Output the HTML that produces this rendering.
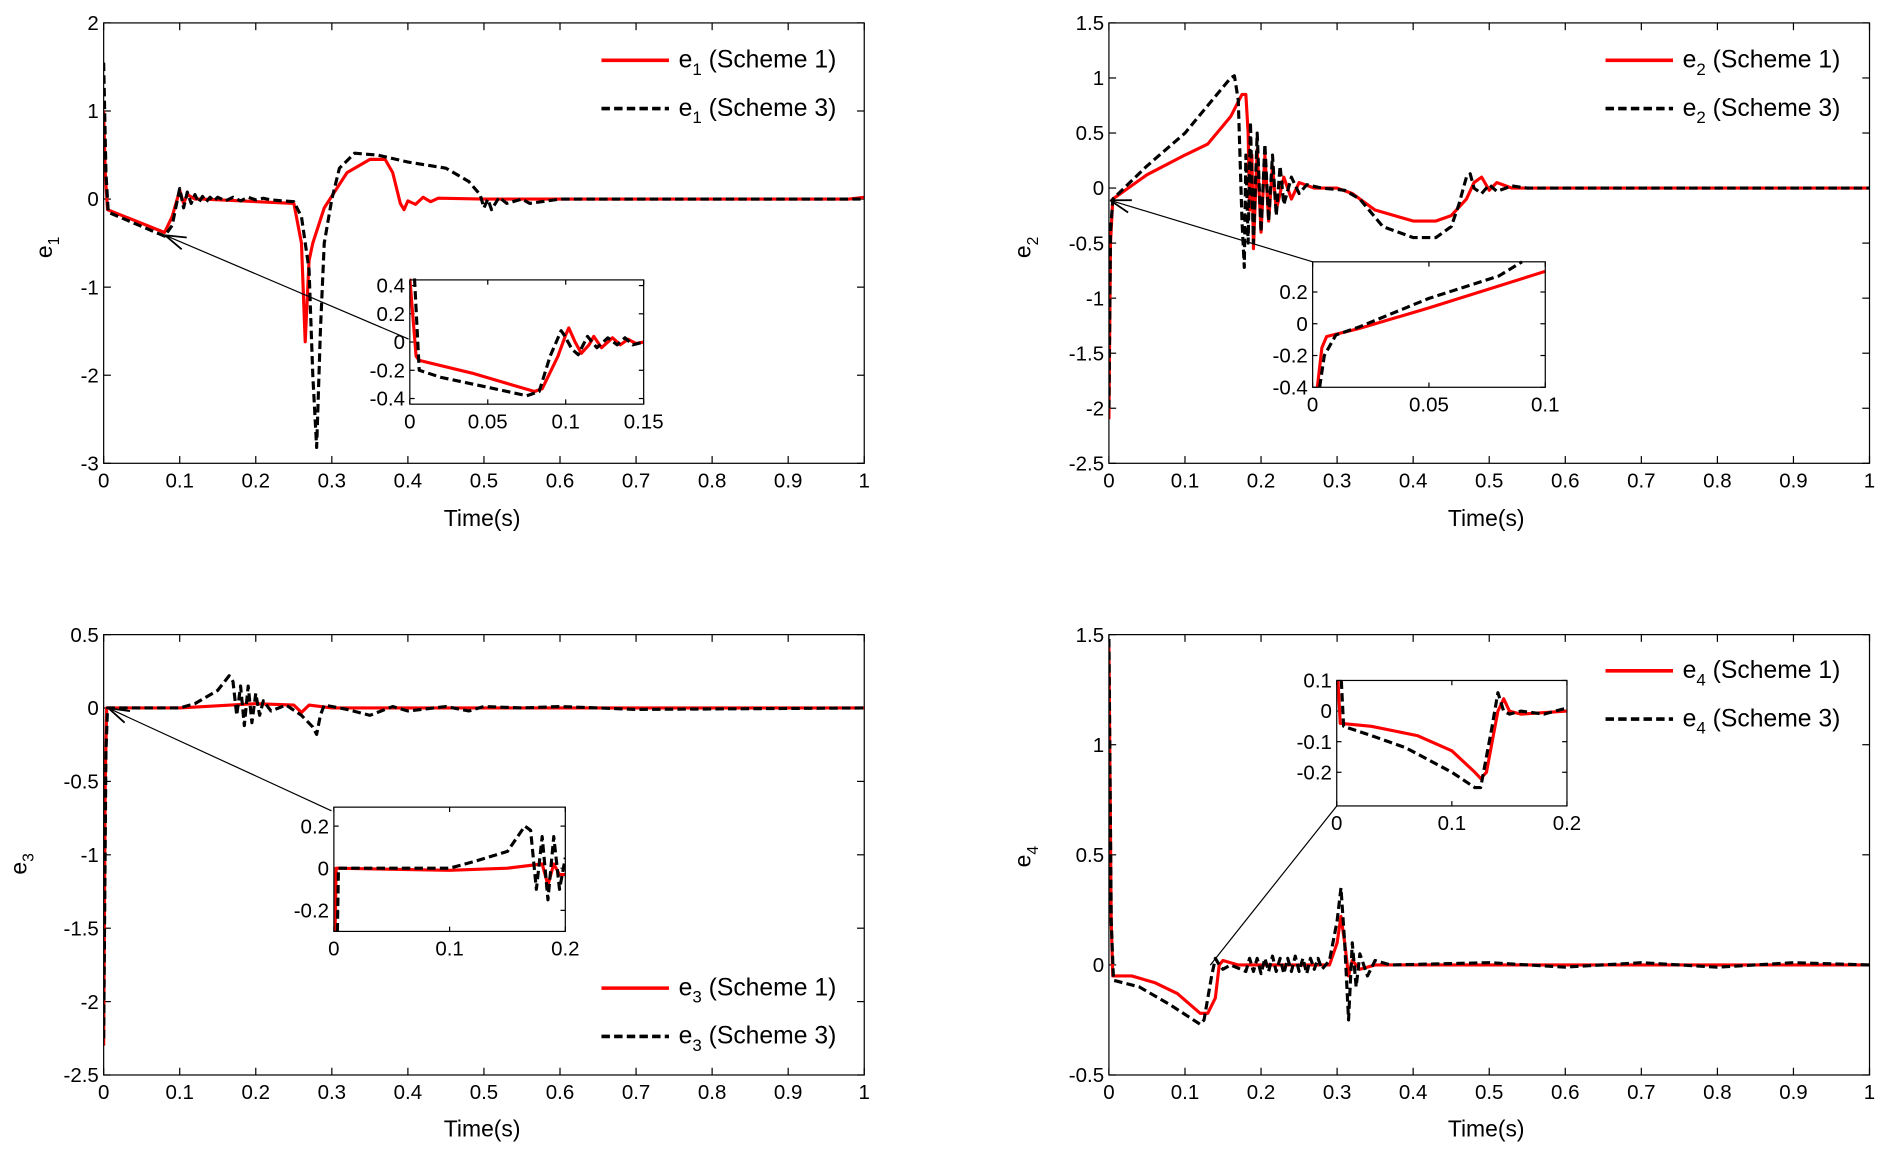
<!DOCTYPE html>
<html><head><meta charset="utf-8"><style>
html,body{margin:0;padding:0;background:#fff}
svg{display:block;font-family:"Liberation Sans",sans-serif}
</style></head><body>
<svg id="fig" width="1890" height="1151" viewBox="0 0 1568 954" preserveAspectRatio="none" xmlns="http://www.w3.org/2000/svg"></svg>
<script>
// ---- data ----
const p1RedT=[0,0.002,0.005,0.08,0.09,0.1,0.105,0.11,0.12,0.13,0.25,0.26,0.265,0.27,0.275,0.29,0.32,0.35,0.37,0.38,0.39,0.395,0.40,0.41,0.42,0.43,0.44,0.5,0.98,1];
const p1RedV=[1.0,0.3,-0.12,-0.38,-0.2,0.1,-0.05,0.05,0,0,-0.05,-0.5,-1.62,-0.7,-0.5,-0.1,0.3,0.45,0.45,0.3,-0.05,-0.12,-0.02,-0.06,0.02,-0.03,0.01,0,0,0.02];
const p1BlkT=[0,0.003,0.006,0.08,0.09,0.1,0.105,0.11,0.115,0.12,0.125,0.13,0.135,0.14,0.145,0.15,0.16,0.17,0.18,0.19,0.2,0.21,0.22,0.25,0.26,0.27,0.275,0.28,0.285,0.29,0.3,0.31,0.33,0.36,0.4,0.45,0.48,0.495,0.5,0.505,0.51,0.52,0.53,0.55,0.56,0.6,1];
const p1BlkV=[1.55,0.3,-0.15,-0.42,-0.3,0.12,-0.1,0.08,-0.05,0.05,-0.04,0.03,-0.03,0.02,-0.02,0.02,-0.02,0.02,-0.02,0.02,-0.01,0.01,-0.01,-0.03,-0.2,-0.8,-2.0,-2.82,-1.5,-0.5,0,0.35,0.52,0.5,0.42,0.35,0.2,0.05,-0.1,0,-0.12,0.02,-0.05,0,-0.05,0,0];
const i1RedT=[0,0.004,0.006,0.04,0.08,0.085,0.095,0.1,0.102,0.106,0.11,0.115,0.118,0.123,0.13,0.135,0.14,0.145,0.15];
const i1RedV=[0.45,-0.1,-0.13,-0.22,-0.35,-0.33,-0.1,0.05,0.1,0.0,-0.08,-0.02,0.04,-0.04,0.03,-0.02,0.02,-0.01,0];
const i1BlkT=[0.003,0.006,0.02,0.05,0.075,0.083,0.09,0.097,0.099,0.104,0.108,0.114,0.12,0.127,0.133,0.138,0.143,0.15];
const i1BlkV=[0.45,-0.2,-0.25,-0.32,-0.38,-0.35,-0.1,0.08,0.05,-0.05,-0.09,0.04,-0.04,0.03,-0.02,0.03,-0.02,0];

const p2RedT=[0,0.002,0.005,0.05,0.1,0.13,0.16,0.175,0.18,0.183,0.185,0.188,0.19,0.195,0.2,0.205,0.21,0.215,0.22,0.23,0.24,0.25,0.27,0.3,0.32,0.35,0.4,0.43,0.45,0.47,0.48,0.49,0.5,0.51,0.53,1];
const p2RedV=[-2.1,-0.5,-0.1,0.12,0.3,0.4,0.65,0.85,0.85,0.5,-0.2,0.3,-0.55,0.35,-0.4,0.3,-0.3,0.2,-0.2,0.1,-0.1,0.05,0,0,-0.05,-0.2,-0.3,-0.3,-0.25,-0.1,0.05,0.1,-0.02,0.05,0,0];
const p2BlkT=[0,0.002,0.005,0.05,0.1,0.13,0.16,0.165,0.17,0.175,0.178,0.18,0.183,0.186,0.19,0.195,0.2,0.205,0.21,0.215,0.22,0.225,0.23,0.24,0.25,0.26,0.28,0.31,0.33,0.36,0.4,0.43,0.45,0.46,0.47,0.475,0.48,0.49,0.5,0.51,0.53,0.55,1];
const p2BlkV=[-2.0,-0.4,-0.1,0.2,0.5,0.75,1.0,1.02,0.8,-0.3,-0.72,0.3,-0.5,0.6,-0.5,0.5,-0.4,0.4,-0.3,0.3,-0.25,0.2,-0.15,0.1,-0.05,0.03,0,-0.02,-0.1,-0.35,-0.45,-0.45,-0.35,-0.15,0.1,0.13,0,-0.05,0.03,-0.03,0.02,0,0];
const i2RedT=[0.002,0.004,0.006,0.02,0.05,0.1];
const i2RedV=[-0.4,-0.15,-0.08,-0.03,0.1,0.33];
const i2BlkT=[0.003,0.005,0.01,0.02,0.05,0.08,0.09];
const i2BlkV=[-0.4,-0.2,-0.07,-0.02,0.16,0.3,0.39];

const p3RedT=[0,0.002,0.004,0.1,0.2,0.25,0.26,0.27,0.3,1];
const p3RedV=[-2.3,-0.5,0,0,0.03,0.02,-0.03,0.02,0,0];
const p3BlkT=[0,0.003,0.005,0.1,0.12,0.15,0.165,0.17,0.175,0.18,0.185,0.19,0.195,0.2,0.205,0.21,0.22,0.24,0.26,0.275,0.28,0.285,0.29,0.32,0.35,0.38,0.4,0.45,0.48,0.5,0.55,0.6,0.7,1];
const p3BlkV=[-2.25,-0.3,0,0,0.03,0.12,0.22,0.18,-0.05,0.15,-0.12,0.15,-0.1,0.1,-0.05,0.05,-0.02,0.02,-0.05,-0.13,-0.18,-0.05,0.02,-0.01,-0.05,0.01,-0.02,0.01,-0.02,0.01,0,0.01,-0.01,0];
const i3RedT=[0.001,0.002,0.1,0.15,0.18,0.185,0.19,0.195,0.2];
const i3RedV=[-0.3,0,-0.01,0,0.02,-0.08,0.02,-0.03,-0.03];
const i3BlkT=[0.003,0.004,0.1,0.12,0.15,0.165,0.17,0.175,0.18,0.185,0.19,0.195,0.2];
const i3BlkV=[-0.3,0,0,0.03,0.08,0.2,0.18,-0.1,0.15,-0.15,0.15,-0.1,0.05];

const p4RedT=[0,0.003,0.005,0.03,0.06,0.09,0.12,0.13,0.14,0.145,0.15,0.17,0.29,0.3,0.305,0.31,0.315,0.32,0.33,0.35,1];
const p4RedV=[1.45,0.2,-0.05,-0.05,-0.08,-0.13,-0.22,-0.22,-0.15,0,0.02,0,0,0.1,0.22,0.1,-0.05,0.02,-0.02,0,0];
const p4BlkT=[0,0.003,0.006,0.04,0.08,0.12,0.125,0.135,0.14,0.145,0.15,0.16,0.18,0.185,0.19,0.195,0.2,0.205,0.21,0.215,0.22,0.225,0.23,0.235,0.24,0.245,0.25,0.255,0.26,0.265,0.27,0.275,0.28,0.29,0.3,0.305,0.31,0.315,0.32,0.325,0.33,0.34,0.35,0.37,0.5,0.6,0.7,0.8,0.9,1];
const p4BlkV=[1.48,0.2,-0.07,-0.1,-0.18,-0.27,-0.25,-0.05,0.03,0,-0.02,0,-0.03,0.03,-0.03,0.03,-0.04,0.03,-0.03,0.04,-0.03,0.03,-0.04,0.03,-0.03,0.04,-0.03,0.03,-0.04,0.03,-0.02,0.03,-0.02,0.02,0.2,0.35,0.1,-0.25,0.1,-0.1,0.05,-0.05,0.02,0,0.01,-0.01,0.01,-0.01,0.01,0];
const i4RedT=[0.001,0.003,0.03,0.07,0.1,0.12,0.125,0.13,0.14,0.145,0.15,0.16,0.2];
const i4RedV=[0.1,-0.04,-0.05,-0.08,-0.13,-0.2,-0.22,-0.2,0,0.04,0,-0.01,0];
const i4BlkT=[0.004,0.006,0.03,0.06,0.1,0.12,0.125,0.135,0.14,0.145,0.15,0.16,0.18,0.2];
const i4BlkV=[0.1,-0.05,-0.08,-0.12,-0.2,-0.25,-0.25,-0.05,0.06,0,-0.01,0,-0.01,0.01];

const mainXTicks=[0,0.1,0.2,0.3,0.4,0.5,0.6,0.7,0.8,0.9,1];
const mainXLabels=["0","0.1","0.2","0.3","0.4","0.5","0.6","0.7","0.8","0.9","1"];
const p1YTicks=[2,1,0,-1,-2,-3];
const p2YTicks=[1.5,1,0.5,0,-0.5,-1,-1.5,-2,-2.5];
const p3YTicks=[0.5,0,-0.5,-1,-1.5,-2,-2.5];
const p4YTicks=[1.5,1,0.5,0,-0.5];
const i1XTicks=[0,0.05,0.1,0.15]; const i1YTicks=[0.4,0.2,0,-0.2,-0.4];
const i2XTicks=[0,0.05,0.1]; const i2YTicks=[0.2,0,-0.2,-0.4];
const i3XTicks=[0,0.1,0.2]; const i3YTicks=[0.2,0,-0.2];
const i4XTicks=[0,0.1,0.2]; const i4YTicks=[0.1,0,-0.1,-0.2];

const NS="http://www.w3.org/2000/svg";
const svg=document.getElementById('fig');
function mk(tag,attrs,parent){const e=document.createElementNS(NS,tag);for(const k in attrs)e.setAttribute(k,attrs[k]);(parent||svg).appendChild(e);return e;}
function fmt(v){return String(v);}

function axes(name,box,xd,yd,xt,xl,yt,fs,tick){
  const g=mk('g',{});
  
  
  const sx=v=>box.x0+(v-xd[0])/(xd[1]-xd[0])*(box.x1-box.x0);
  const sy=v=>box.y1-(v-yd[0])/(yd[1]-yd[0])*(box.y1-box.y0);
  mk('rect',{x:box.x0,y:box.y0,width:box.x1-box.x0,height:box.y1-box.y0,fill:'#fff',stroke:'none'},g);
  const cid='c'+name;
  const cp=mk('clipPath',{id:cid},g);
  mk('rect',{x:box.x0,y:box.y0-3,width:box.x1-box.x0,height:box.y1-box.y0+6},cp);
  const xg=mk('g',{},g);
  
  
  xt.forEach((v,i)=>{const x=sx(v);
    mk('line',{x1:x,x2:x,y1:box.y1,y2:box.y1-tick,stroke:'#000','stroke-width':1},xg);
    mk('line',{x1:x,x2:x,y1:box.y0,y2:box.y0+tick,stroke:'#000','stroke-width':1},xg);
    const t=mk('text',{x:x,y:box.y1+fs+3,'font-size':fs,'text-anchor':'middle'},xg);t.textContent=xl?xl[i]:fmt(v);});
  const yg=mk('g',{},g);
  
  
  yt.forEach(v=>{const y=sy(v);
    mk('line',{x1:box.x0,x2:box.x0+tick,y1:y,y2:y,stroke:'#000','stroke-width':1},yg);
    mk('line',{x1:box.x1,x2:box.x1-tick,y1:y,y2:y,stroke:'#000','stroke-width':1},yg);
    const t=mk('text',{x:box.x0-4,y:y+fs*0.35,'font-size':fs,'text-anchor':'end'},yg);t.textContent=fmt(v);});
  const lg=mk('g',{'clip-path':'url(#'+cid+')'},g);
  return {g,lg,sx,sy,box};
}
function series(ax,name,T,V,red){
  const d=T.map((t,i)=>(i?'L':'M')+ax.sx(t).toFixed(1)+','+ax.sy(V[i]).toFixed(1)).join('');
  const p=mk('path',{d:d,fill:'none',stroke:red?'#ff0000':'#000','stroke-width':2.6,'stroke-linejoin':'round','stroke-dasharray':red?'none':'7,3.5'},ax.lg);
  
  
}
function frame(ax){mk('rect',{x:ax.box.x0,y:ax.box.y0,width:ax.box.x1-ax.box.x0,height:ax.box.y1-ax.box.y0,fill:'none',stroke:'#000','stroke-width':1},ax.g);}
function legend(name,x,y,sub){
  const g=mk('g',{});
  
  
  [[1,'#ff0000','none'],[3,'#000','7,3.5']].forEach((s,i)=>{
    const yy=y+i*40;
    mk('line',{x1:x,x2:x+56,y1:yy,y2:yy,stroke:s[1],'stroke-width':3,'stroke-dasharray':s[2]},g);
    const t=mk('text',{x:x+64,y:yy+6,'font-size':20.5},g);
    t.innerHTML='e<tspan font-size="14" dy="6">'+sub+'</tspan><tspan dy="-6"> (Scheme '+s[0]+')</tspan>';
  });
}
function ylabel(name,x,y,sub){
  const t=mk('text',{x:x,y:y,'font-size':19,transform:'rotate(-90 '+x+' '+y+')','text-anchor':'middle'});
  
  
  t.innerHTML='e<tspan font-size="13" dy="6">'+sub+'</tspan>';
}
function xlabel(name,x,y){const t=mk('text',{x:x,y:y,'font-size':19,'text-anchor':'middle'});
  
  
  t.textContent='Time(s)';}
function arrow(name,x1,y1,x2,y2){
  const g=mk('g',{});
  
  
  mk('line',{x1:x1,y1:y1,x2:x2,y2:y2,stroke:'#000','stroke-width':1},g);
  const a=Math.atan2(y2-y1,x2-x1),L=18,w=0.3;
  mk('path',{d:`M${x2},${y2}L${x2-L*Math.cos(a-w)},${y2-L*Math.sin(a-w)}M${x2},${y2}L${x2-L*Math.cos(a+w)},${y2-L*Math.sin(a+w)}`,stroke:'#000','stroke-width':1.5,fill:'none'},g);
}

// Plot 1
let a=axes('plot-e1',{x0:86,x1:717,y0:19,y1:384},[0,1],[-3,2],mainXTicks,mainXLabels,p1YTicks,17,6);
series(a,'e1-scheme1-line',p1RedT,p1RedV,true);series(a,'e1-scheme3-line',p1BlkT,p1BlkV,false);frame(a);
ylabel('y-axis-title-e1',43,205,'1');xlabel('x-axis-title-1',400,436);legend('legend-e1',499,50,'1');
arrow('zoom-arrow-e1',339,281,137,195);
a=axes('inset-e1',{x0:340,x1:534,y0:232,y1:335},[0,0.15],[-0.44,0.44],i1XTicks,null,i1YTicks,17,4);
series(a,'inset-e1-scheme1',i1RedT,i1RedV,true);series(a,'inset-e1-scheme3',i1BlkT,i1BlkV,false);frame(a);

// Plot 2
a=axes('plot-e2',{x0:920,x1:1551,y0:19,y1:384},[0,1],[-2.5,1.5],mainXTicks,mainXLabels,p2YTicks,17,6);
series(a,'e2-scheme1-line',p2RedT,p2RedV,true);series(a,'e2-scheme3-line',p2BlkT,p2BlkV,false);frame(a);
ylabel('y-axis-title-e2',855,205,'2');xlabel('x-axis-title-2',1233,436);legend('legend-e2',1332,50,'2');
arrow('zoom-arrow-e2',1089,217,921,166);
a=axes('inset-e2',{x0:1089,x1:1282,y0:217,y1:321},[0,0.1],[-0.4,0.39],i2XTicks,null,i2YTicks,17,4);
series(a,'inset-e2-scheme1',i2RedT,i2RedV,true);series(a,'inset-e2-scheme3',i2BlkT,i2BlkV,false);frame(a);

// Plot 3
a=axes('plot-e3',{x0:86,x1:717,y0:526,y1:891},[0,1],[-2.5,0.5],mainXTicks,mainXLabels,p3YTicks,17,6);
series(a,'e3-scheme1-line',p3RedT,p3RedV,true);series(a,'e3-scheme3-line',p3BlkT,p3BlkV,false);frame(a);
ylabel('y-axis-title-e3',22,716,'3');xlabel('x-axis-title-3',400,942);legend('legend-e3',499,819,'3');
arrow('zoom-arrow-e3',275,672,90,587);
a=axes('inset-e3',{x0:277,x1:469,y0:669,y1:772},[0,0.2],[-0.3,0.29],i3XTicks,null,i3YTicks,17,4);
series(a,'inset-e3-scheme1',i3RedT,i3RedV,true);series(a,'inset-e3-scheme3',i3BlkT,i3BlkV,false);frame(a);

// Plot 4
a=axes('plot-e4',{x0:920,x1:1551,y0:526,y1:891},[0,1],[-0.5,1.5],mainXTicks,mainXLabels,p4YTicks,17,6);
series(a,'e4-scheme1-line',p4RedT,p4RedV,true);series(a,'e4-scheme3-line',p4BlkT,p4BlkV,false);frame(a);
ylabel('y-axis-title-e4',855,710,'4');xlabel('x-axis-title-4',1233,942);legend('legend-e4',1332,556,'4');
const zl=mk('line',{x1:1109,y1:668,x2:1004,y2:800,stroke:'#000','stroke-width':1});


a=axes('inset-e4',{x0:1109,x1:1300,y0:564,y1:668},[0,0.2],[-0.31,0.1],i4XTicks,null,i4YTicks,17,4);
series(a,'inset-e4-scheme1',i4RedT,i4RedV,true);series(a,'inset-e4-scheme3',i4BlkT,i4BlkV,false);frame(a);
</script>
</body></html>
